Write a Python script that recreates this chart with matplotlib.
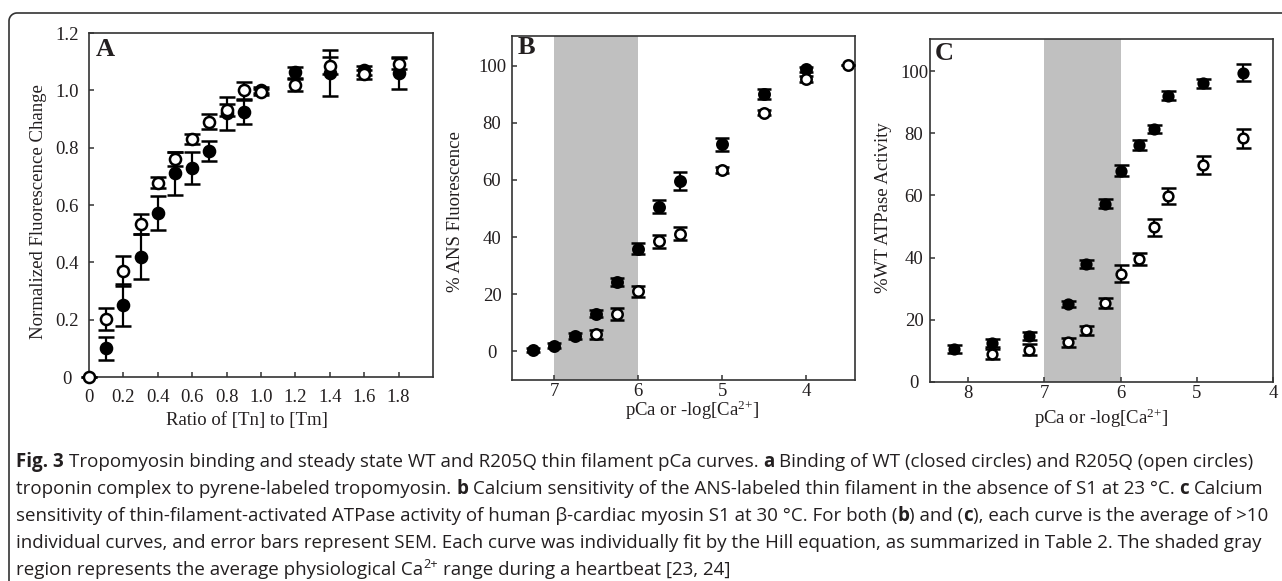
import numpy as np
import matplotlib
matplotlib.use('Agg')
import matplotlib.pyplot as plt

# ---------------------------------------------------------------- data --- #

# Panel A : ratio of [Tn] to [Tm]
ratio_wt = [0.1, 0.2, 0.3, 0.4, 0.5, 0.6, 0.7, 0.8, 0.9, 1.0, 1.2, 1.4, 1.6, 1.8]
fluor_wt = [0.10, 0.251, 0.42, 0.572, 0.71, 0.73, 0.788, 0.92, 0.924, 1.0,
            1.063, 1.06, 1.07, 1.06]
fluor_wt_err = [0.04, 0.072, 0.078, 0.06, 0.075, 0.055, 0.035, 0.058, 0.043,
                0.01, 0.02, 0.08, 0.015, 0.055]
ratio_mut = [0.0, 0.1, 0.2, 0.3, 0.4, 0.5, 0.6, 0.7, 0.8, 0.9, 1.0, 1.2, 1.4, 1.6, 1.8]
fluor_mut = [0.0, 0.202, 0.369, 0.535, 0.678, 0.76, 0.831, 0.891, 0.932, 1.0,
             0.995, 1.019, 1.086, 1.056, 1.093]
fluor_mut_err = [0.0, 0.038, 0.053, 0.035, 0.02, 0.025, 0.017, 0.025, 0.02,
                 0.03, 0.01, 0.02, 0.03, 0.015, 0.02]

# Panel B : % ANS fluorescence vs pCa
pca_b_wt = [7.25, 7.0, 6.75, 6.5, 6.25, 6.0, 5.75, 5.5, 5.0, 4.5, 4.0]
ans_wt = [0.5, 2.0, 5.5, 13.2, 24.3, 36.0, 50.6, 59.7, 72.5, 90.1, 98.7]
ans_wt_err = [0.8, 0.8, 1.0, 1.2, 1.5, 2.0, 2.3, 3.2, 2.3, 1.8, 1.0]
pca_b_mut = [6.5, 6.25, 6.0, 5.75, 5.5, 5.0, 4.5, 4.0, 3.5]
ans_mut = [6.0, 13.2, 21.0, 38.5, 41.2, 63.4, 83.6, 95.3, 100.3]
ans_mut_err = [1.6, 2.1, 2.0, 2.3, 2.3, 1.0, 1.0, 1.0, 0.0]

# Panel C : % WT ATPase activity vs pCa
pca_c_wt = [8.18, 7.69, 7.2, 6.69, 6.45, 6.21, 5.99, 5.76, 5.56, 5.38, 4.92, 4.4]
atp_wt = [10.7, 12.5, 14.7, 25.0, 38.0, 57.3, 68.0, 76.2, 81.3, 92.1, 96.0, 99.5]
atp_wt_err = [1.3, 1.3, 1.3, 1.0, 1.2, 1.5, 1.8, 1.5, 1.2, 1.4, 1.3, 2.7]
pca_c_mut = [7.69, 7.2, 6.69, 6.45, 6.21, 5.99, 5.76, 5.56, 5.38, 4.92, 4.4]
atp_mut = [9.0, 10.4, 12.8, 16.6, 25.4, 34.8, 39.5, 49.7, 59.8, 69.8, 78.4]
atp_mut_err = [1.5, 1.7, 1.5, 1.5, 1.6, 2.7, 1.9, 2.7, 2.7, 2.8, 3.0]

# physiological Ca range (pCa)
shade_range = (7.0, 6.0)

caption_lines = [
    [('Fig. 3', 'b'), (' Tropomyosin binding and steady state WT and R205Q thin filament pCa curves. ', 'n'),
     ('a', 'b'), (' Binding of WT (closed circles) and R205Q (open circles)', 'n')],
    [('troponin complex to pyrene-labeled tropomyosin. ', 'n'), ('b', 'b'),
     (' Calcium sensitivity of the ANS-labeled thin filament in the absence of S1 at 23 °C. ', 'n'),
     ('c', 'b'), (' Calcium', 'n')],
    [('sensitivity of thin-filament-activated ATPase activity of human β-cardiac myosin S1 at 30 °C. For both (', 'n'),
     ('b', 'b'), (') and (', 'n'), ('c', 'b'), ('), each curve is the average of >10', 'n')],
    [('individual curves, and error bars represent SEM. Each curve was individually fit by the Hill equation, '
      'as summarized in Table 2. The shaded gray', 'n')],
    [('region represents the average physiological Ca', 'n'), ('2+', 'sup'),
     (' range during a heartbeat [23, 24]', 'n')],
]

# ---------------------------------------------------------------- style -- #

W, H = 1282, 581
plt.rcParams['font.family'] = ['Liberation Serif', 'DejaVu Serif']
plt.rcParams['mathtext.fontset'] = 'custom'
plt.rcParams['mathtext.rm'] = 'Liberation Serif'
plt.rcParams['mathtext.it'] = 'Liberation Serif:italic'
INK = '#231f20'
SPINE = '#333333'
PCA_LABEL = r'pCa or -log[Ca$^{2}$$^{+}$]'

fig = plt.figure(figsize=(W / 100, H / 100), dpi=100)


def px_axes(left, top, right, bottom):
    ''' axes from pixel box (y measured from the top) '''
    return fig.add_axes([left / W, 1 - bottom / H, (right - left) / W, (bottom - top) / H])


def style_axes(ax, ypad, xpad, ylab_xy, xlab_xy, letter, letter_xy):
    for s in ax.spines.values():
        s.set_linewidth(1.2)
        s.set_color(SPINE)
    ax.tick_params(direction='in', length=3.5, width=1.1, color=SPINE,
                   labelsize=13.5, labelcolor=INK, top=False, right=False)
    ax.tick_params(axis='y', pad=ypad)
    ax.tick_params(axis='x', pad=xpad)
    for lab in ax.get_yticklabels():
        lab.set_ha('center')
    ax.yaxis.set_label_coords(*ylab_xy)
    ax.xaxis.set_label_coords(*xlab_xy)
    ax.yaxis.label.set_va('center')
    ax.xaxis.label.set_va('center')
    ax.text(letter_xy[0], letter_xy[1], letter, transform=ax.transAxes,
            ha='left', va='top', fontsize=19, fontweight='bold', color=INK)


def points(ax, x, y, err, filled, ms, cap):
    ax.errorbar(x, y, yerr=err, fmt='o', color='black', ecolor='black',
                ms=ms, mfc='black' if filled else 'white', mec='black',
                mew=1.8, elinewidth=1.6, capsize=cap, capthick=1.6,
                clip_on=False, zorder=3 if filled else 4)


# ---------------------------------------------------------------- panel A  #
axA = px_axes(89, 33, 433, 377)
points(axA, ratio_wt, fluor_wt, fluor_wt_err, True, 8, 6)
points(axA, ratio_mut, fluor_mut, fluor_mut_err, False, 8, 6)
axA.set_xlim(0, 2.0)
axA.set_ylim(0, 1.2)
axA.set_xticks(np.arange(0, 1.81, 0.2))
axA.set_xticklabels(['0'] + ['%.1f' % v for v in np.arange(0.2, 1.81, 0.2)])
axA.set_yticks(np.arange(0, 1.21, 0.2))
axA.set_yticklabels(['0'] + ['%.1f' % v for v in np.arange(0.2, 1.21, 0.2)])
axA.set_ylabel('Normalized Fluorescence Change', fontsize=13.5, color=INK)
axA.set_xlabel('Ratio of [Tn] to [Tm]', fontsize=13.5, color=INK)
style_axes(axA, 15.8, 8.5, (-0.148, 0.48), (0.459, -0.125), 'A', (0.02, 0.985))

# ---------------------------------------------------------------- panel B  #
axB = px_axes(512, 36, 855, 380)
axB.axvspan(*shade_range, color='#c0c0c0', lw=0, zorder=0)
points(axB, pca_b_wt, ans_wt, ans_wt_err, True, 7.5, 4.8)
points(axB, pca_b_mut, ans_mut, ans_mut_err, False, 7.5, 4.8)
axB.set_xlim(7.5, 3.42)
axB.set_ylim(-10, 110.4)
axB.set_xticks([7, 6, 5, 4])
axB.set_yticks(range(0, 101, 20))
axB.set_ylabel('% ANS Fluorescence', fontsize=13.5, color=INK)
axB.set_xlabel(PCA_LABEL, fontsize=13.5, color=INK)
style_axes(axB, 14.4, 2.5, (-0.166, 0.489), (0.526, -0.087), 'B', (0.015, 1.0))

# ---------------------------------------------------------------- panel C  #
axC = px_axes(930, 39, 1273, 382)
axC.axvspan(*shade_range, color='#c0c0c0', lw=0, zorder=0)
points(axC, pca_c_wt, atp_wt, atp_wt_err, True, 7, 5.4)
points(axC, pca_c_mut, atp_mut, atp_mut_err, False, 7, 5.4)
axC.set_xlim(8.5, 4.0)
axC.set_ylim(0, 110.3)
axC.set_xticks([8, 7, 6, 5, 4])
axC.set_yticks(range(0, 101, 20))
axC.set_ylabel('%WT ATPase Activity', fontsize=13.5, color=INK)
axC.set_xlabel(PCA_LABEL, fontsize=13.5, color=INK)
style_axes(axC, 11.5, 2.5, (-0.137, 0.507), (0.498, -0.105), 'C', (0.015, 0.99))

# ---------------------------------------------------------------- frame + caption
bg = fig.add_axes([0, 0, 1, 1], zorder=-1)
bg.set_xlim(0, W)
bg.set_ylim(H, 0)
bg.axis('off')

r = 8
theta = np.linspace(np.pi, 1.5 * np.pi, 20)
fx = np.concatenate([[9], 9 + r + r * np.cos(theta), [W]])
fy = np.concatenate([[H], 13 + r + r * np.sin(theta), [13]])
bg.plot(fx, fy, color=SPINE, lw=1.2, solid_capstyle='butt')

renderer = fig.canvas.get_renderer()
cap_size = 13.5
cap_font = ['Open Sans', 'DejaVu Sans']


def text_width(s, **kw):
    t = bg.text(0, 0, s, **kw)
    w = t.get_window_extent(renderer).width
    t.remove()
    return w


space_w = text_width('a a', family=cap_font, fontsize=cap_size) - \
    text_width('aa', family=cap_font, fontsize=cap_size)

baseline = 467
for line in caption_lines:
    x = 16
    for txt, kind in line:
        kw = dict(family=cap_font, fontsize=cap_size, color=INK, va='baseline', ha='left')
        y = baseline
        if kind == 'b':
            kw['fontweight'] = 'bold'
        if kind == 'sup':
            kw['fontsize'] = cap_size * 0.68
            y = baseline - cap_size * 0.5
        x += (len(txt) - len(txt.lstrip())) * space_w
        core = txt.strip()
        t = bg.text(x, y, core, **kw)
        x += t.get_window_extent(renderer).width
        x += (len(txt) - len(txt.rstrip())) * space_w
    baseline += 27

fig.savefig('out.png', dpi=100)
